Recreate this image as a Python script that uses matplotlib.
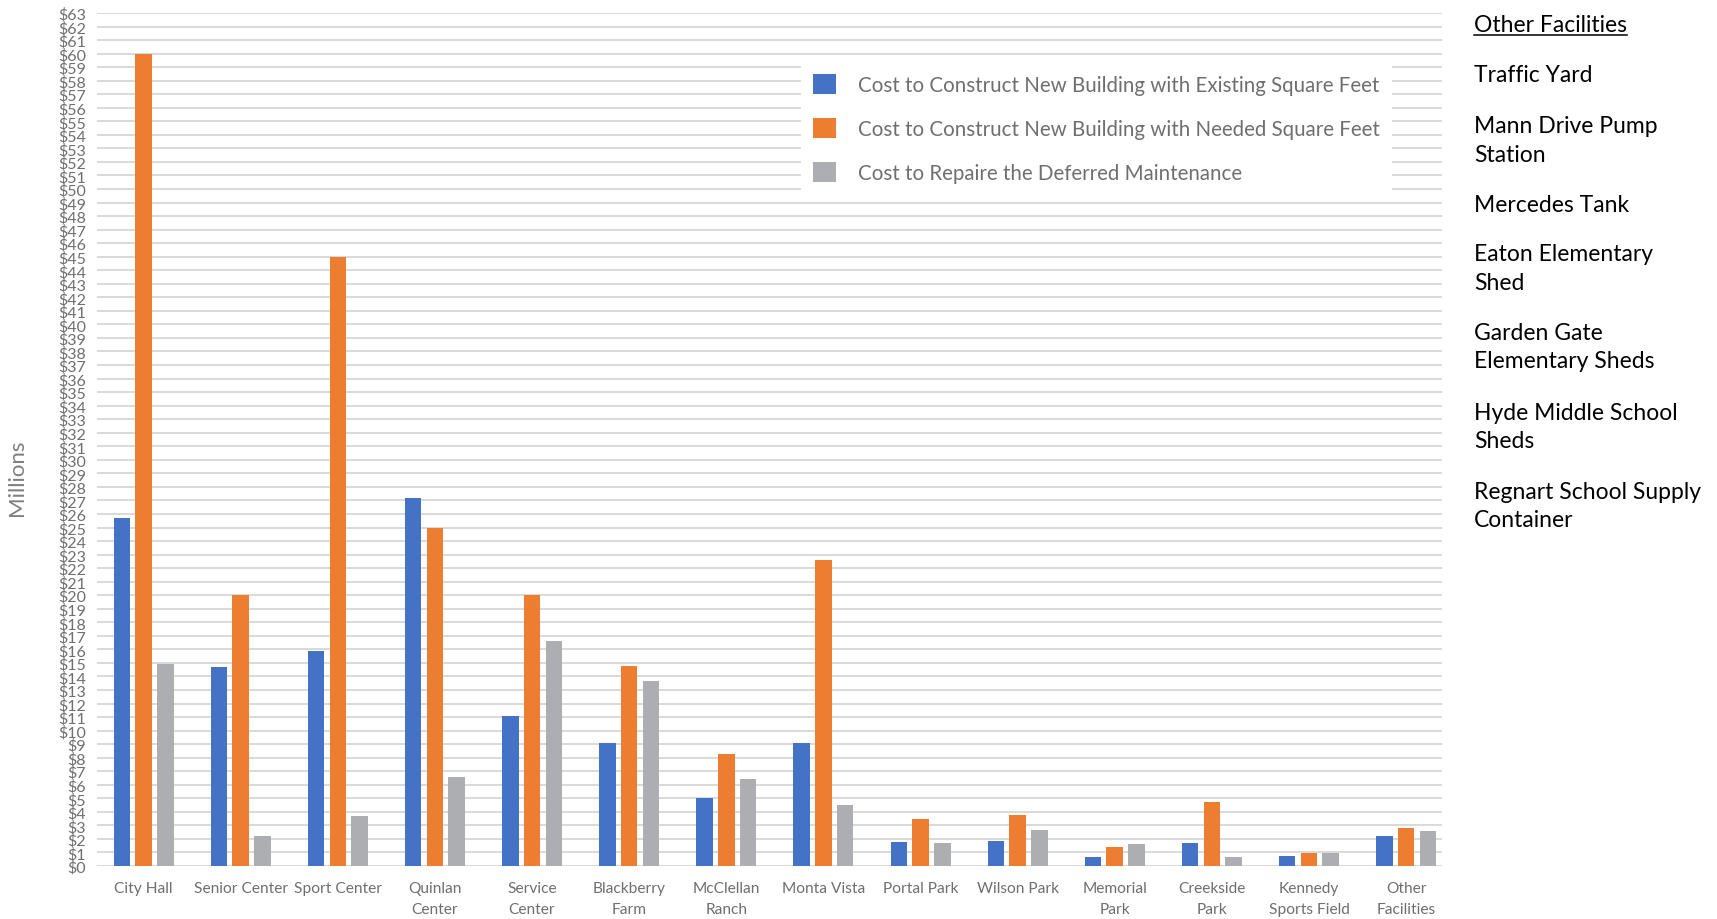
import numpy as np
import matplotlib.pyplot as plt
from matplotlib.lines import Line2D

# Daten
categories = ["City Hall", "Senior Center", "Sport Center", "Quinlan\nCenter",
              "Service\nCenter", "Blackberry\nFarm", "McClellan\nRanch", "Monta Vista",
              "Portal Park", "Wilson Park", "Memorial\nPark", "Creekside\nPark",
              "Kennedy\nSports Field", "Other\nFacilities"]
existing_sqft = [25.7, 14.7, 15.9, 27.2, 11.1, 9.1, 5.0, 9.1, 1.75, 1.85, 0.65, 1.7, 0.72, 2.2]
needed_sqft = [60.0, 20.0, 45.0, 25.0, 20.0, 14.8, 8.3, 22.6, 3.5, 3.75, 1.4, 4.75, 0.97, 2.8]
deferred = [14.9, 2.2, 3.7, 6.55, 16.6, 13.65, 6.4, 4.5, 1.7, 2.65, 1.6, 0.65, 0.97, 2.58]
series_names = ["Cost to Construct New Building with Existing Square Feet",
                "Cost to Construct New Building with Needed Square Feet",
                "Cost to Repaire the Deferred Maintenance"]
other_facilities = ["Traffic Yard", "Mann Drive Pump\nStation", "Mercedes Tank",
                    "Eaton Elementary\nShed", "Garden Gate\nElementary Sheds",
                    "Hyde Middle School\nSheds", "Regnart School Supply\nContainer"]

colors = ["#4472C4", "#ED7D31", "#ADAEB1"]
tick_grey = "#6f6f6f"

plt.rcParams['font.family'] = ['Lato', 'DejaVu Sans']

fig = plt.figure(figsize=(17.17, 9.2), dpi=100)
ax = fig.add_axes([97 / 1717, 1 - 867 / 920, (1442 - 97) / 1717, (867 - 14) / 920])

x = np.arange(len(categories))
width = 0.17
step = 0.224
for i, vals in enumerate([existing_sqft, needed_sqft, deferred]):
    ax.bar(x + (i - 1) * step, vals, width, color=colors[i], label=series_names[i], zorder=3)

ax.set_xlim(-0.48, 13.37)
ax.set_ylim(0, 63)
ax.set_yticks(np.arange(0, 64, 1))
ax.set_yticklabels([f"${v}" for v in range(64)], fontsize=11.5, color=tick_grey)
ax.set_xticks(x)
ax.set_xticklabels(categories, fontsize=11.2, color=tick_grey, linespacing=1.62)
ax.tick_params(axis='both', length=0)
ax.tick_params(axis='x', pad=11)
ax.tick_params(axis='y', pad=8)
ax.yaxis.grid(True, color="#D9D9D9", linewidth=1.4, zorder=0)
ax.set_axisbelow(True)
for s in ax.spines.values():
    s.set_visible(False)

# Achsenbeschriftung
fig.text(17 / 1717, 1 - 478 / 920, "Millions", rotation=90, va='center', ha='center',
         fontsize=16, color="#7f7f7f")

# Legende
leg = ax.legend(loc='upper left', bbox_to_anchor=((801 - 97) / 1345, 1 - (63 - 14) / 853),
                borderaxespad=0, frameon=True, fontsize=14.8, handlelength=1.1,
                handleheight=1.1, labelspacing=1.13, handletextpad=1.05, borderpad=0.6,
                labelcolor="#6f6f6f")
leg.get_frame().set_linewidth(0)
leg.get_frame().set_facecolor("white")
leg.get_frame().set_alpha(1)

# Andere Einrichtungen rechts
fs = 16.5
pitch = 28.5
fig.text(1474 / 1717, 1 - 32 / 920, "Other Facilities", fontsize=fs, va='baseline',
         ha='left', color="black")
fig.canvas.draw()
title = fig.texts[-1]
bb = title.get_window_extent(fig.canvas.get_renderer())
fig.add_artist(Line2D([bb.x0 / 1717, bb.x1 / 1717], [1 - 36 / 920, 1 - 36 / 920],
                      color="black", linewidth=1.1, transform=fig.transFigure))

first_baselines = [82.5, 133, 212, 261, 340, 420, 498.5]
for base, name in zip(first_baselines, other_facilities):
    # baseline bezieht sich auf die letzte Zeile
    last = base + pitch * name.count("\n")
    fig.text(1474 / 1717, 1 - last / 920, name, fontsize=fs, va='baseline', ha='left',
             color="black", linespacing=1.44)

plt.savefig("out.png", dpi=100)
